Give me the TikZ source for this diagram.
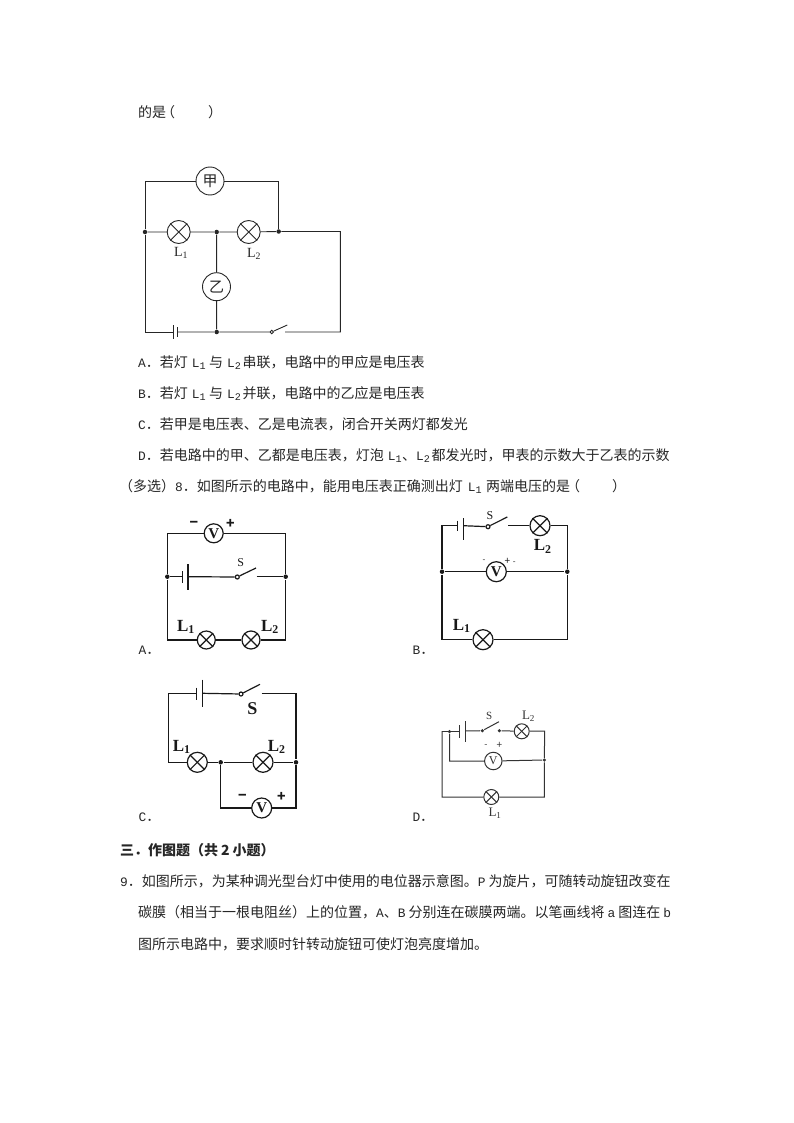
\documentclass[tikz,border=0pt]{standalone}
\usepackage{fontspec}
\setmainfont{Noto Sans CJK SC}
\newfontfamily\latin[Scale=0.92]{Liberation Mono}
\newfontfamily\serif{Liberation Serif}
\usetikzlibrary{calc}
\tikzset{
	txt/.style={anchor=west, inner sep=0pt, text=black!85, font=\fontsize{14}{16}\selectfont},
	lampbody/.style={draw, circle, inner sep=0pt, minimum size=#1},
	meter/.style={draw, circle, inner sep=0pt, minimum size=#1},
	joint/.style={fill, circle, inner sep=0pt, minimum size=4.5pt},
	pivot/.style={draw, circle, fill=white, inner sep=0pt, minimum size=4pt},
	tag/.style={inner sep=0pt}
}
\def\lamp(#1)(#2)(#3){\node[lampbody=#3] (#1) at (#2) {};
	\draw (#1.45) -- (#1.225); \draw (#1.135) -- (#1.-45);}
\def\plate(#1)(#2,#3)(#4:#5){\coordinate (#1) at (#2,#3); \draw (#2,#4) -- (#2,#5);}
\newcommand{\Ltext}[1]{{\latin L}\textsubscript{\fontsize{11}{11}\selectfont\latin #1}}
\newcommand{\Lbold}[2]{{\fontsize{#1}{#1}\selectfont\serif\bfseries L\textsubscript{#2}}}
\newcommand{\Lthin}[2]{{\fontsize{#1}{#1}\selectfont\serif L\textsubscript{#2}}}

\begin{document}
\begin{tikzpicture}[x=1pt, y=-1pt]
		\useasboundingbox (0,0) rectangle (794,1123);
		
		%%%%% TEXT %%%%%
		\node[txt] (top) at (138,112) {的是\hspace{-5pt}（\hspace{33pt}）};
		\node[txt] (lineA) at (138,362.5) {{\latin A}．若灯\hspace{4pt}\Ltext{1}\hspace{3pt}与\hspace{4pt}\Ltext{2}\hspace{1pt}串联，电路中的甲应是电压表};
		\node[txt] (lineB) at (138,393.5) {{\latin B}．若灯\hspace{4pt}\Ltext{1}\hspace{3pt}与\hspace{4pt}\Ltext{2}\hspace{1pt}并联，电路中的乙应是电压表};
		\node[txt] (lineC) at (138,424.5) {{\latin C}．若甲是电压表、乙是电流表，闭合开关两灯都发光};
		\node[txt] (lineD) at (138,455.5) {{\latin D}．若电路中的甲、乙都是电压表，灯泡\hspace{4pt}\Ltext{1}、\Ltext{2}\hspace{1pt}都发光时，甲表的示数大于乙表的示数};
		\node[txt] (lineE) at (119,486.5) {（多选）{\latin 8}．如图所示的电路中，能用电压表正确测出灯\hspace{5pt}\Ltext{1}\hspace{4pt}两端电压的是\hspace{-4pt}（\hspace{32pt}）};
		\node[txt, font=\fontsize{14}{16}\selectfont\bfseries] (head) at (120,850.5) {三．作图题（共\hspace{3pt}2\hspace{3pt}小题）};
		\node[txt] (lineF) at (120,881.5) {{\latin 9}．如图所示，为某种调光型台灯中使用的电位器示意图。{\latin P}\hspace{3pt}为旋片，可随转动旋钮改变在};
		\node[txt] (lineG) at (138,912.5) {碳膜（相当于一根电阻丝）上的位置，{\latin A}、{\latin B}\hspace{3pt}分别连在碳膜两端。以笔画线将\hspace{3pt}{\latin a}\hspace{3pt}图连在\hspace{3pt}{\latin b}};
		\node[txt] (lineH) at (138,944) {图所示电路中，要求顺时针转动旋钮可使灯泡亮度增加。};
		
		%%%%% FIRST CIRCUIT %%%%%
		\begin{scope}[line width=0.9pt, black!85]
		\node[joint] (jTl) at (145,232) {};
		\node[joint] (jTm) at (216.7,232) {};
		\node[joint] (jTr) at (278.7,231.5) {};
		\node[joint] (jTb) at (216.7,332) {};
		\node[meter=28pt, font=\fontsize{15}{15}\selectfont] (mJia) at (210,181) {甲};
		\node[meter=28pt, font=\fontsize{15}{15}\selectfont] (mYi) at (216.5,286.7) {乙};
		\lamp(lTa)(178.7,232)(23pt)
		\lamp(lTb)(248.7,232)(23pt)
		\node[tag] (tTa) at (181,253) {\Lthin{14}{1}};
		\node[tag] (tTb) at (254,254) {\Lthin{14}{2}};
		\plate(bTa)(173.3,332)(325:339)
		\plate(bTb)(177.7,332)(327:337)
		\node[pivot, minimum size=3.5pt] (sT) at (271.7,332) {};
		\coordinate (sTtip) at (287.3,325);
		\coordinate (sTend) at (285,332);
		\coordinate (cTr) at (340.3,332);
		\draw (jTl) |- (mJia);
		\draw (mJia) -| (jTr);
		\draw (jTl) -- (lTa) -- (jTm) -- (lTb) -- (jTr) -| (cTr) -- (sTend);
		\draw (jTm) -- (mYi) -- (jTb);
		\draw (jTl) |- (bTa);
		\draw (bTb) -- (jTb) -- (sT) -- (sTtip);
		\end{scope}
		
		%%%%% CIRCUIT A %%%%%
		\begin{scope}[line width=1.2pt, black!90]
		\node[joint] (jAl) at (167.3,576.7) {};
		\node[joint] (jAr) at (285.7,576.7) {};
		\node[meter=19pt, font=\fontsize{15}{15}\selectfont\serif\bfseries] (mA) at (213.7,533.3) {V};
		\lamp(lAa)(206.3,640)(18pt)
		\lamp(lAb)(251,640)(18pt)
		\node[tag] (tAa) at (186,627) {\Lbold{17}{1}};
		\node[tag] (tAb) at (270,627) {\Lbold{17}{2}};
		\node[tag, font=\fontsize{14}{14}\selectfont\bfseries] (mAm) at (194,524) {−};
		\node[tag, font=\fontsize{14}{14}\selectfont\bfseries] (mAp) at (230.3,524) {+};
		\plate(bAa)(182.7,576.7)(571:583)
		\plate(bAb)(188,576.7)(564:590)
		\node[pivot] (sA) at (237.3,577) {};
		\coordinate (sAtip) at (256,568);
		\coordinate (sAend) at (256.7,576.7);
		\node[tag, font=\fontsize{12}{12}\selectfont\serif] (tAs) at (240.7,563) {S};
		\draw (jAl) |- (mA) -| (jAr);
		\draw (jAl) -- (bAa);
		\draw (bAb) -- (sA) -- (sAtip);
		\draw (sAend) -- (jAr);
		\draw (jAl) |- (lAa) -- (lAb) -| (jAr);
		\node[txt] (capA) at (138,650) {{\latin A}．};
		\end{scope}
		
		%%%%% CIRCUIT B %%%%%
		\begin{scope}[line width=1.2pt, black!90]
		\node[joint] (jBl) at (442,571.7) {};
		\node[joint] (jBr) at (567.3,571.7) {};
		\node[meter=20pt, font=\fontsize{15}{15}\selectfont\serif\bfseries] (mB) at (496.3,571.7) {V};
		\lamp(lBa)(483,639.7)(20pt)
		\lamp(lBb)(540,525.7)(20pt)
		\node[tag] (tBa) at (461.7,626) {\Lbold{17}{1}};
		\node[tag] (tBb) at (542.7,546.7) {\Lbold{17}{2}};
		\node[tag, font=\fontsize{8}{8}\selectfont] (mBm) at (484,561) {-};
		\node[tag, font=\fontsize{10}{10}\selectfont] (mBp) at (507.3,561) {+};
		\node[tag, font=\fontsize{8}{8}\selectfont] (mBn) at (514.3,563) {-};
		\plate(bBa)(457.7,525.7)(520.7:530.7)
		\plate(bBb)(463.3,525.7)(518.3:540)
		\node[pivot] (sB) at (488,526.7) {};
		\coordinate (sBtip) at (507.3,517);
		\coordinate (sBend) at (508.3,525.7);
		\node[tag, font=\fontsize{12}{12}\selectfont\serif] (tBs) at (490,516) {S};
		\draw (jBl) |- (bBa);
		\draw (bBb) -- (sB) -- (sBtip);
		\draw (sBend) -- (lBb) -| (jBr);
		\draw (jBl) -- (mB) -- (jBr);
		\draw (jBl) |- (lBa) -| (jBr);
		\node[txt] (capB) at (412,650) {{\latin B}．};
		\end{scope}
		
		%%%%% CIRCUIT C %%%%%
		\begin{scope}[line width=1.2pt, black!90]
		\node[joint] (jCm) at (220.7,762.3) {};
		\node[joint] (jCr) at (296,762.3) {};
		\node[meter=20pt, font=\fontsize{15}{15}\selectfont\serif\bfseries] (mC) at (261.7,808) {V};
		\lamp(lCa)(197.3,762.3)(20pt)
		\lamp(lCb)(263,762.3)(20pt)
		\node[tag] (tCa) at (181.7,747) {\Lbold{17}{1}};
		\node[tag] (tCb) at (276.7,747) {\Lbold{17}{2}};
		\node[tag, font=\fontsize{14}{14}\selectfont\bfseries] (mCm) at (242.3,797.7) {−};
		\node[tag, font=\fontsize{14}{14}\selectfont\bfseries] (mCp) at (281.3,797) {+};
		\plate(bCa)(196.7,693.3)(687.7:700)
		\plate(bCb)(202.7,693.3)(679.7:707.3)
		\node[pivot] (sC) at (241,694) {};
		\coordinate (sCtip) at (260,684.3);
		\coordinate (sCend) at (261.7,693.3);
		\node[tag, font=\fontsize{18}{18}\selectfont\serif\bfseries] (tCs) at (252.3,708.3) {S};
		\draw (lCa) -| (168.7,693.3) -- (bCa);
		\draw (bCb) -- (sC) -- (sCtip);
		\draw (sCend) -| (jCr);
		\draw (lCa) -- (jCm) -- (lCb) -- (jCr);
		\draw (jCm) |- (mC) -| (jCr);
		\node[txt] (capC) at (138,817.7) {{\latin C}．};
		\end{scope}
		
		%%%%% CIRCUIT D %%%%%
		\begin{scope}[line width=1pt, black!80]
		\node[joint, minimum size=3.5pt] (jDl) at (449.5,731.5) {};
		\node[joint, minimum size=3.5pt] (jDr) at (544.3,760) {};
		\node[meter=17.5pt, font=\fontsize{12}{12}\selectfont\serif] (mD) at (493.3,761) {V};
		\lamp(lDa)(491.3,797)(15pt)
		\lamp(lDb)(521.7,731.3)(15pt)
		\node[tag] (tDa) at (495,813) {\Lthin{13}{1}};
		\node[tag] (tDb) at (528.5,716) {\Lthin{13}{2}};
		\node[tag, font=\fontsize{9}{9}\selectfont] (mDm) at (486,745.7) {-};
		\node[tag, font=\fontsize{10}{10}\selectfont] (mDp) at (499.3,745) {+};
		\plate(bDa)(459.3,731)(725:738)
		\plate(bDb)(465.3,731)(721:741.7)
		\node[joint, minimum size=3.5pt] (sD) at (482.3,730.7) {};
		\node[joint, minimum size=3.5pt] (sDe) at (499.3,730.7) {};
		\coordinate (sDtip) at (499,721.7);
		\node[tag, font=\fontsize{11}{11}\selectfont\serif] (tDs) at (489.3,715.7) {S};
		\coordinate (cDl) at (442,731);
		\coordinate (cDr) at (544.7,731);
		\draw (cDl) -- (bDa);
		\draw (bDb) -- (sD) -- (sDtip);
		\draw (sDe) -- (lDb) -- (cDr) -- (jDr) |- (lDa) -| (cDl);
		\draw (jDl) |- (mD) -- (jDr);
		\node[txt] (capD) at (412,817) {{\latin D}．};
		\end{scope}
	\end{tikzpicture}
\end{document}
